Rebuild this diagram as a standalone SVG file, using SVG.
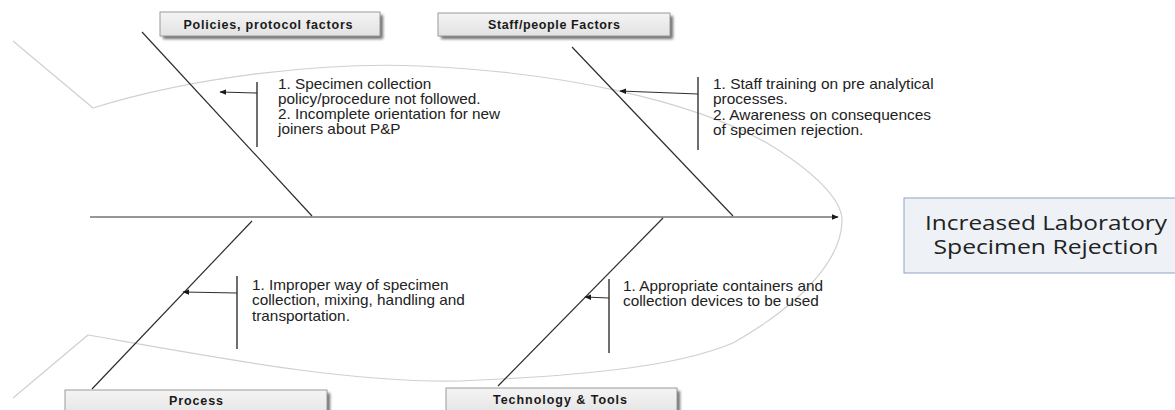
<svg xmlns="http://www.w3.org/2000/svg" width="1175" height="410" viewBox="0 0 1175 410">
  <style>
    .bone{stroke:#2e2e2e;stroke-width:1.2;fill:none}
    .brk{stroke:#4a4a4a;stroke-width:1.6;fill:none}
    .arr{stroke:#2e2e2e;stroke-width:1.1;fill:none}
    .fish{stroke:#d0d0d0;stroke-width:1.2;fill:none}
    .cat{fill:url(#catg);stroke:#9a9a9a;stroke-width:1}
    .shadow{fill:#6e6e6e;filter:url(#blur)}
    .catt{font-family:"Liberation Sans",Arial,sans-serif;font-weight:bold;font-size:12.5px;fill:#1a1a1a;text-anchor:middle}
    .note{font-family:"Liberation Sans",Arial,sans-serif;font-size:14.6px;fill:#222}
    .res{font-family:"Open Sans","Noto Sans",sans-serif;font-size:20px;fill:#222;text-anchor:middle}
  </style>
  <defs>
    <linearGradient id="catg" x1="0" y1="0" x2="0" y2="1">
      <stop offset="0" stop-color="#f4f4f4"/>
      <stop offset="1" stop-color="#e2e2e2"/>
    </linearGradient>
    <filter id="blur" x="-10%" y="-50%" width="120%" height="200%">
      <feGaussianBlur stdDeviation="1.5"/>
    </filter>
    <marker id="ah" viewBox="0 0 10 10" refX="9" refY="5" markerWidth="7" markerHeight="7" orient="auto" markerUnits="userSpaceOnUse">
      <path d="M0,1 L10,5 L0,9 z" fill="#1a1a1a"/>
    </marker>
  </defs>
  <rect width="1175" height="410" fill="#ffffff"/>

  <g id="fish-outline">
    <path class="fish" d="M13,41 L93,108 C200,75 330,62 420,66 C560,72 690,100 767,143 C815,172 842,200 842,220 C842,260 800,305 733,343 C680,365 600,375 460,381 C350,383 230,360 88,335 L13,398"/>
  </g>

  <g id="connectors">
    <line class="bone" x1="90" y1="217" x2="838" y2="217" marker-end="url(#ah)"/>
    <line class="bone" x1="142" y1="32" x2="312" y2="216"/>
    <line class="bone" x1="572" y1="47" x2="733" y2="216"/>
    <line class="bone" x1="252" y1="221" x2="92" y2="389"/>
    <line class="bone" x1="663" y1="218" x2="498" y2="386"/>
    <line class="brk" x1="257" y1="82" x2="257" y2="147"/>
    <line class="arr" x1="257" y1="93" x2="220" y2="92" marker-end="url(#ah)"/>
    <line class="brk" x1="698" y1="77" x2="698" y2="150"/>
    <line class="arr" x1="698" y1="94" x2="620" y2="91" marker-end="url(#ah)"/>
    <line class="brk" x1="237" y1="276" x2="237" y2="349"/>
    <line class="arr" x1="237" y1="293" x2="183" y2="292" marker-end="url(#ah)"/>
    <line class="brk" x1="609" y1="279" x2="609" y2="353"/>
    <line class="arr" x1="609" y1="298" x2="585" y2="297" marker-end="url(#ah)"/>
  </g>

  <g id="cat-policies">
    <rect class="shadow" x="163" y="15" width="220" height="24"/>
    <rect class="cat" x="160" y="12" width="220" height="24"/>
    <text class="catt" x="268" y="28.5" textLength="169" lengthAdjust="spacing">Policies, protocol factors</text>
  </g>
  <g id="cat-staff">
    <rect class="shadow" x="441" y="16" width="232" height="23"/>
    <rect class="cat" x="438" y="13" width="232" height="23"/>
    <text class="catt" x="554" y="29" textLength="132" lengthAdjust="spacing">Staff/people Factors</text>
  </g>
  <g id="cat-process">
    <rect class="shadow" x="68" y="393" width="262" height="30"/>
    <rect class="cat" x="65" y="390" width="262" height="30"/>
    <text class="catt" x="196" y="405" textLength="54" lengthAdjust="spacing">Process</text>
  </g>
  <g id="cat-technology">
    <rect class="shadow" x="449" y="391" width="231" height="30"/>
    <rect class="cat" x="446" y="388" width="231" height="30"/>
    <text class="catt" x="560" y="404" textLength="134" lengthAdjust="spacing">Technology &amp; Tools</text>
  </g>

  <g id="note-policies" transform="translate(278,0) scale(1.05,1) translate(-278,0)">
    <text class="note" x="278" y="89">1. Specimen collection</text>
    <text class="note" x="278" y="104">policy/procedure not followed.</text>
    <text class="note" x="278" y="119">2. Incomplete orientation for new</text>
    <text class="note" x="278" y="134">joiners about P&amp;P</text>
  </g>
  <g id="note-staff" transform="translate(713,0) scale(1.06,1) translate(-713,0)">
    <text class="note" x="713" y="89">1. Staff training on pre analytical</text>
    <text class="note" x="713" y="104.5">processes.</text>
    <text class="note" x="713" y="120">2. Awareness on consequences</text>
    <text class="note" x="713" y="135.5">of specimen rejection.</text>
  </g>
  <g id="note-process" transform="translate(252,0) scale(1.05,1) translate(-252,0)">
    <text class="note" x="252" y="290">1. Improper way of specimen</text>
    <text class="note" x="252" y="305.5">collection, mixing, handling and</text>
    <text class="note" x="252" y="321">transportation.</text>
  </g>
  <g id="note-technology" transform="translate(623,0) scale(1.05,1) translate(-623,0)">
    <text class="note" x="623" y="291">1. Appropriate containers and</text>
    <text class="note" x="623" y="306.5">collection devices to be used</text>
  </g>

  <g id="effect">
    <rect x="904" y="198" width="280" height="75" fill="#eef1f6" stroke="#8fa3c4" stroke-width="1"/>
    <text class="res" x="1046" y="229.5" textLength="242" lengthAdjust="spacingAndGlyphs">Increased Laboratory</text>
    <text class="res" x="1046" y="254" textLength="225" lengthAdjust="spacingAndGlyphs">Specimen Rejection</text>
  </g>
</svg>
